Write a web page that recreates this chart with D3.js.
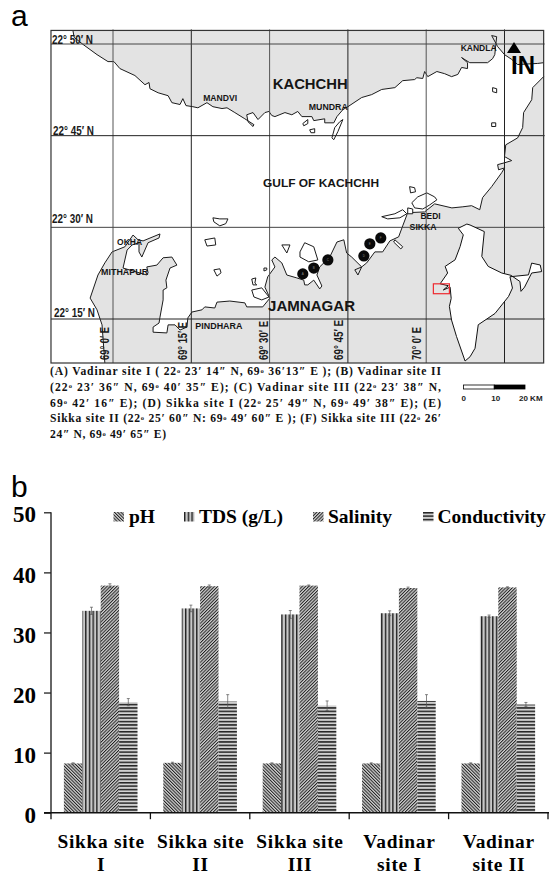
<!DOCTYPE html>
<html>
<head>
<meta charset="utf-8">
<script src="https://cdn.jsdelivr.net/npm/d3@7"></script>
<style>
  html, body { margin: 0; padding: 0; background: #fff; }
  svg { display: block; }
</style>
</head>
<body>
<svg id="fig" width="550" height="875"></svg>
<script>
// panel a: all map points are millidegrees east of 69E and north of 22N
const kachchh_coast = [[-128,1037],[-124,1018],[-96,999],[-51,971],[-16,952],[3,952],[22,933],[70,914],[102,889],[115,895],[118,878],[144,867],[176,859],[188,840],[214,835],[223,851],[233,832],[255,829],[271,826],[300,840],[319,829],[348,824],[364,826],[389,813],[421,796],[450,780],[447,775],[431,788],[427,807],[447,813],[463,794],[485,813],[498,816],[507,805],[517,802],[549,813],[571,807],[590,816],[603,802],[635,802],[641,791],[676,796],[676,785],[705,785],[715,802],[734,821],[750,829],[794,854],[826,862],[858,876],[900,881],[925,900],[963,903],[970,908],[989,906],[995,925],[1005,911],[1034,925],[1059,919],[1081,911],[1101,917],[1113,936],[1132,933],[1132,949],[1113,963],[1139,949],[1196,949],[1212,960],[1219,971],[1225,1020],[1209,1023],[1228,993],[1250,971],[1273,958],[1292,944],[1356,947],[1375,949],[1375,1037]]

const saurashtra_coast = [[1375,911],[1340,881],[1337,848],[1311,813],[1308,772],[1292,744],[1254,725],[1250,693],[1273,682],[1250,676],[1228,671],[1231,657],[1250,662],[1241,649],[1209,611],[1180,581],[1171,548],[1145,559],[1117,556],[1082,553],[1027,564],[995,542],[941,540],[925,504],[912,474],[884,463],[861,433],[836,433],[810,403],[794,392],[772,384],[782,370],[794,392],[762,419],[746,430],[737,466],[715,460],[692,419],[660,392],[651,370],[667,340],[660,332],[641,356],[622,343],[612,343],[609,356],[587,362],[555,370],[539,403],[517,419],[507,411],[517,392],[494,365],[485,337],[501,307],[478,283],[427,283],[421,294],[373,299],[332,296],[325,280],[293,283],[284,275],[252,269],[239,253],[236,228],[214,220],[198,234],[176,234],[172,212],[128,214],[128,228],[147,239],[150,255],[160,302],[160,329],[172,335],[169,356],[182,389],[204,397],[188,419],[160,417],[140,397],[108,392],[112,376],[108,370],[32,389],[45,438],[61,452],[83,458],[83,433],[92,419],[112,458],[147,471],[150,482],[96,463],[80,466],[64,479],[38,447],[-3,433],[-26,403],[-48,370],[-73,307],[-51,275],[-35,234],[-26,130],[1375,130]]

const islands = [
  [[1212,881],[1225,878],[1225,867],[1212,870]],
  [[1209,785],[1222,785],[1222,775],[1209,775]],
  [[699,744],[705,739],[718,761],[734,794],[724,788],[708,772]],
  [[628,766],[644,769],[644,758],[632,758]],
  [[606,783],[622,794],[622,783],[609,777]],
  [[947,611],[963,608],[966,597],[950,594]],
  [[954,567],[973,583],[1002,594],[1027,583],[1034,575],[1011,561],[989,550],[963,553]],
  [[858,529],[900,537],[925,548],[938,537],[916,526],[877,523]],
  [[941,553],[957,550],[957,537],[941,537]],
  [[319,526],[341,523],[367,523],[360,510],[341,504],[322,515]],
  [[293,466],[325,471],[328,452],[300,449]],
  [[322,384],[341,387],[345,376],[332,367]],
  [[482,389],[491,389],[491,384],[482,381]],
  [[443,359],[456,362],[453,348],[459,343],[447,343]],
  [[443,329],[475,335],[498,310],[475,302],[450,310]],
  [[539,452],[565,452],[555,430]],
  [[612,458],[641,447],[654,411],[625,406],[597,419],[597,433]],
  [[900,466],[925,447],[919,441],[896,460]]
]

// India outline for the inset, plain lon / lat in degrees
const india_outline = [[76.3,37.2],[73.9,36.3],[75.3,34.9],[74.4,32.4],[73.0,29.6],[70.2,28.2],[70.9,26.8],[68.8,24.5],[71.1,24.1],[69.7,23.2],[71.6,23.8],[71.9,21.4],[71.4,19.7],[72.0,16.8],[73.4,13.3],[75.8,8.1],[77.2,9.0],[78.6,10.8],[79.5,15.8],[84.2,18.2],[88.0,21.8],[89.1,23.6],[88.4,26.0],[93.6,26.4],[94.5,28.9],[96.9,28.5],[97.3,27.1],[94.5,26.8],[92.5,23.8],[91.5,22.9],[91.2,25.0],[88.7,26.3],[86.1,26.8],[82.3,28.2],[80.5,30.3],[81.2,35.6],[77.2,37.0]]
const inset_box = [[66.9,24.5],[71.4,22.4]]

const site_names = ['A', 'B', 'C', 'D', 'E', 'F']
const site_lon = [606, 641, 686, 801, 820, 855]
const site_lat = [373, 389, 411, 422, 455, 471]

const lon_ticks = [0, 250, 500, 750, 1000, 1250]
const lon_labels = ['69° 0′ E', '69° 15′ E', '69° 30′ E', '69° 45′ E', '70° 0′ E']
const lon_label_width = [33, 38, 39, 40, 33]
const lat_ticks = [1000, 750, 500, 250]
const lat_labels = ['22° 50′ N', '22° 45′ N', '22° 30′ N', '22° 15′ N']

const place_names = ['KACHCHH', 'JAMNAGAR', 'GULF OF KACHCHH', 'MANDVI', 'MUNDRA', 'KANDLA', 'BEDI', 'SIKKA', 'OKHA', 'MITHAPUR', 'PINDHARA']
const place_lon = [510, 495, 479, 288, 625, 1110, 982, 947, 13, -38, 263]
const place_lat = [876, 272, 610, 845, 821, 980, 523, 493, 452, 370, 222]
const place_size = [14.5, 15.5, 10.8, 8.6, 8.6, 8.6, 8.6, 8.6, 8.6, 8.6, 8.6]
const place_width = [75, 87, 116, 34, 39, 36, 20, 27, 25, 47, 47]

const caption_lines = [
  '(A) Vadinar site I ( 22º 23′ 14″ N, 69º 36′13″ E ); (B) Vadinar site II',
  '(22º 23′ 36″ N, 69º 40′ 35″ E); (C) Vadinar site III (22º 23′ 38″ N,',
  '69º 42′ 16″ E); (D) Sikka site I (22º 25′ 49″ N, 69º 49′ 38″ E); (E)',
  'Sikka site II (22º 25′ 60″ N: 69º 49′ 60″ E ); (F) Sikka site III (22º 26′',
  '24″ N, 69º 49′ 65″ E)'
]
const caption_width = [391, 391, 391, 391, 116]

const scale_ticks = [0, 10, 20]

// panel b
const sites = ['Sikka site I', 'Sikka site II', 'Sikka site III', 'Vadinar site I', 'Vadinar site II']
const site_line_one = ['Sikka site', 'Sikka site', 'Sikka site', 'Vadinar', 'Vadinar']
const site_line_two = ['I', 'II', 'III', 'site I', 'site II']
const series_names = ['pH', 'TDS (g/L)', 'Salinity', 'Conductivity']
const ph_values = [8.2, 8.3, 8.2, 8.2, 8.2]
const tds_values = [33.6, 34.0, 33.0, 33.2, 32.7]
const salinity_values = [37.8, 37.7, 37.8, 37.4, 37.5]
const conductivity_values = [18.4, 18.5, 17.8, 18.6, 18.0]
const ph_errors = [0.1, 0.1, 0.1, 0.1, 0.1]
const tds_errors = [0.6, 0.55, 0.65, 0.4, 0.2]
const salinity_errors = [0.3, 0.2, 0.1, 0.15, 0.1]
const conductivity_errors = [0.6, 1.15, 0.8, 1.05, 0.35]
const y_ticks = [0, 10, 20, 30, 40, 50]

const all_values = [ph_values, tds_values, salinity_values, conductivity_values]
const all_errors = [ph_errors, tds_errors, salinity_errors, conductivity_errors]

const sans = '"Liberation Sans", Arial, sans-serif'
const serif = '"Liberation Serif", "Times New Roman", serif'
const line_dark = '#1c1c1c'

const svg = d3.select('#fig')
const defs = svg.append('defs')

function add_pattern(id, size, angle, back, bars) {
  const p = defs.append('pattern')
    .attr('id', id)
    .attr('patternUnits', 'userSpaceOnUse')
    .attr('width', size)
    .attr('height', size)
    .attr('patternTransform', `rotate(${angle})`)
  p.append('rect').attr('width', size).attr('height', size).attr('fill', back)
  p.append('rect').attr('width', bars).attr('height', size).attr('fill', '#222')
}
add_pattern('fill_ph', 2.3, -45, '#d0d0d0', 1)
add_pattern('fill_tds', 3.7, 0, '#c8c8c8', 1.4)
add_pattern('fill_sal', 2.3, 45, '#d0d0d0', 1)
add_pattern('fill_con', 3.4, 90, '#d2d2d2', 1.5)
const pattern_ids = ['fill_ph', 'fill_tds', 'fill_sal', 'fill_con']

draw_map()
draw_bars()

function draw_map() {
  const x = d3.scaleLinear().domain([0, 1250]).range([113, 504.5])
  const y = d3.scaleLinear().domain([250, 1000]).range([319, 44])
  const west = -198
  const east = 1375
  const north = 1037
  const south = 130
  const line = d3.line().x(d => x(d[0])).y(d => y(d[1])).curve(d3.curveLinear)
  const map = svg.append('g')

  svg.append('text').text('a')
    .attr('x', 11).attr('y', 26)
    .attr('font-family', sans).attr('font-size', 30)

  map.append('path')
    .attr('d', line(kachchh_coast) + 'Z')
    .attr('fill', '#e3e3e3').attr('stroke', 'none')
  map.append('path')
    .attr('d', line(kachchh_coast.slice(0, -1)))
    .attr('fill', 'none').attr('stroke', line_dark).attr('stroke-width', 1)
  map.append('path')
    .attr('d', line(saurashtra_coast) + 'Z')
    .attr('fill', '#e3e3e3').attr('stroke', 'none')
  map.append('path')
    .attr('d', line(saurashtra_coast.slice(0, -1)))
    .attr('fill', 'none').attr('stroke', line_dark).attr('stroke-width', 1)

  map.selectAll('path.island').data(islands).join('path')
    .attr('class', 'island')
    .attr('d', d => line(d) + 'Z')
    .attr('fill', '#fff').attr('stroke', line_dark).attr('stroke-width', 1)

  map.selectAll('line.lon').data(lon_ticks).join('line')
    .attr('class', 'lon')
    .attr('x1', d => x(d)).attr('x2', d => x(d))
    .attr('y1', y(north) - 1).attr('y2', y(south))
    .attr('stroke', (d, i) => i % 2 ? '#222' : '#555').attr('stroke-width', 1)
  map.selectAll('line.lat').data(lat_ticks).join('line')
    .attr('class', 'lat')
    .attr('x1', x(west)).attr('x2', x(east) + 1)
    .attr('y1', d => y(d)).attr('y2', d => y(d))
    .attr('stroke', (d, i) => i % 2 ? '#222' : '#444').attr('stroke-width', 1)

  // india inset sits on top of the grid, its own scale
  const ix = d3.scaleLinear().domain([68.2, 97.4]).range([438, 542])
  const iy = d3.scaleLinear().domain([8.1, 37.0]).range([361, 225])
  const iline = d3.line().x(d => ix(d[0])).y(d => iy(d[1]))
  map.append('path')
    .attr('d', iline(india_outline) + 'Z')
    .attr('fill', '#fff').attr('stroke', '#111').attr('stroke-width', 1)
  map.append('rect')
    .attr('x', ix(inset_box[0][0])).attr('y', iy(inset_box[0][1]))
    .attr('width', ix(inset_box[1][0]) - ix(inset_box[0][0]))
    .attr('height', iy(inset_box[1][1]) - iy(inset_box[0][1]))
    .attr('fill', 'none').attr('stroke', '#ee2a30').attr('stroke-width', 1.2)

  map.append('rect')
    .attr('x', x(west)).attr('y', y(north))
    .attr('width', x(east) - x(west)).attr('height', y(south) - y(north))
    .attr('fill', 'none').attr('stroke', '#333').attr('stroke-width', 1.2)

  // sampling sites
  const site_g = map.selectAll('g.site').data(site_names).join('g')
    .attr('class', 'site')
    .attr('transform', (d, i) => `translate(${x(site_lon[i])},${y(site_lat[i])})`)
  site_g.append('circle').attr('r', 5.6).attr('fill', '#0a0a0a')
  site_g.append('text').text(d => d)
    .attr('text-anchor', 'middle').attr('y', 1)
    .attr('font-family', sans).attr('font-size', 3).attr('fill', '#888')

  // grid labels
  map.selectAll('text.lat_label').data(lat_labels).join('text')
    .attr('class', 'lat_label')
    .attr('x', (d, i) => [52, 53, 52, 54][i])
    .attr('y', (d, i) => y(lat_ticks[i]) - [0, 1, 4, 2][i])
    .attr('font-family', sans).attr('font-size', 12)
    .attr('font-weight', 'bold').attr('fill', '#1a1a1a')
    .attr('textLength', 41).attr('lengthAdjust', 'spacingAndGlyphs')
    .text(d => d)
  map.selectAll('text.lon_label').data(lon_labels).join('text')
    .attr('class', 'lon_label')
    .attr('transform', (d, i) => `translate(${x(lon_ticks[i]) - [4, 4, 2, 5, 5][i]},360) rotate(-90)`)
    .attr('font-family', sans).attr('font-size', 12)
    .attr('font-weight', 'bold').attr('fill', '#1a1a1a')
    .attr('textLength', (d, i) => lon_label_width[i]).attr('lengthAdjust', 'spacingAndGlyphs')
    .text(d => d)

  map.selectAll('text.place').data(place_names).join('text')
    .attr('class', 'place')
    .attr('x', (d, i) => x(place_lon[i]))
    .attr('y', (d, i) => y(place_lat[i]))
    .attr('font-family', sans)
    .attr('font-size', (d, i) => place_size[i])
    .attr('font-weight', 'bold').attr('fill', '#151515')
    .attr('textLength', (d, i) => place_width[i]).attr('lengthAdjust', 'spacingAndGlyphs')
    .text(d => d)

  // north arrow, the shaft runs into the I
  map.append('path')
    .attr('d', d3.line()([[514, 42], [521, 53], [507, 53]]) + 'Z')
    .attr('fill', '#000')
  map.append('text').text('IN')
    .attr('x', 511).attr('y', 74)
    .attr('font-family', sans).attr('font-size', 25).attr('font-weight', 'bold')
    .attr('textLength', 24).attr('lengthAdjust', 'spacingAndGlyphs')

  draw_caption()
  draw_scale_bar()
}

function draw_caption() {
  const row = d3.scaleLinear().domain([0, 4]).range([375, 438])
  caption_lines.forEach((txt, i) => {
    const t = svg.append('text')
      .attr('x', 50).attr('y', row(i))
      .attr('font-family', serif).attr('font-size', 11.6).attr('font-weight', 'bold')
      .attr('fill', '#111')
      .attr('textLength', caption_width[i]).attr('lengthAdjust', 'spacing')
    const parts = txt.split('º')
    parts.forEach((part, k) => {
      const tail = k == 0 ? 0 : 2.5
      t.append('tspan').attr('dy', tail).text(part)
      if (k < parts.length - 1) {
        t.append('tspan').attr('dy', -2.5).attr('font-size', 6.5).text('o')
      }
    })
  })
}

function draw_scale_bar() {
  const km = d3.scaleLinear().domain([0, 20]).range([463.5, 525])
  const g = svg.append('g')
  d3.pairs(scale_ticks).forEach((pair, i) => {
    g.append('rect')
      .attr('x', km(pair[0])).attr('y', 385)
      .attr('width', km(pair[1]) - km(pair[0])).attr('height', 4)
      .attr('fill', i == 0 ? '#fff' : '#000')
      .attr('stroke', '#000').attr('stroke-width', 0.8)
  })
  g.selectAll('text').data(scale_ticks).join('text')
    .attr('x', d => km(d) + [-2, -3, -6][scale_ticks.indexOf(d)])
    .attr('y', 401)
    .attr('font-family', sans).attr('font-size', 8).attr('font-weight', 'bold')
    .attr('fill', '#222')
    .text(d => d == 20 ? '20 KM' : d)
}

function draw_bars() {
  const y = d3.scaleLinear().domain([0, 50]).range([812.7, 512.3])
  const x0 = d3.scaleBand().domain(sites).range([51, 548])
  const x1 = d3.scaleBand().domain(series_names)
    .range([0, x0.bandwidth()]).paddingInner(0).paddingOuter(0.7)
  const g = svg.append('g')

  svg.append('text').text('b')
    .attr('x', 11).attr('y', 497)
    .attr('font-family', sans).attr('font-size', 30)

  series_names.forEach((name, s) => {
    g.selectAll(`rect.s${s}`).data(sites).join('rect')
      .attr('class', `s${s}`)
      .attr('x', d => x0(d) + x1(name))
      .attr('y', (d, i) => y(all_values[s][i]))
      .attr('width', x1.bandwidth())
      .attr('height', (d, i) => y(0) - y(all_values[s][i]))
      .attr('fill', `url(#${pattern_ids[s]})`)

    g.selectAll(`path.e${s}`).data(sites).join('path')
      .attr('class', `e${s}`)
      .attr('d', (d, i) => {
        const cx = x0(d) + x1(name) + x1.bandwidth() / 2
        const v = all_values[s][i]
        const e = all_errors[s][i]
        return `M${cx},${y(v - e)}V${y(v + e)}M${cx - 1.5},${y(v + e)}H${cx + 1.5}M${cx - 1.5},${y(v - e)}H${cx + 1.5}`
      })
      .attr('fill', 'none').attr('stroke', '#555').attr('stroke-width', 0.7)
  })

  const y_axis = g.append('g')
    .attr('transform', 'translate(51,0)')
    .call(d3.axisLeft(y).tickValues(y_ticks).tickSize(7).tickPadding(8))
  y_axis.select('.domain').attr('stroke', '#333').attr('stroke-width', 1.5)
    .attr('d', `M0,${y(50)}V${y(0)}`)
  y_axis.selectAll('.tick line').attr('stroke', '#222').attr('stroke-width', 1.3)
  y_axis.selectAll('.tick text')
    .attr('font-family', serif).attr('font-size', 23).attr('font-weight', 'bold')
    .attr('fill', '#000').attr('dy', '0.42em')

  const x_edges = sites.map(d => x0(d)).concat([x0.range()[1]])
  const x_axis = g.append('g')
  x_axis.append('line')
    .attr('x1', 44).attr('x2', 549)
    .attr('y1', y(0)).attr('y2', y(0))
    .attr('stroke', '#111').attr('stroke-width', 1.4)
  x_axis.selectAll('line.tick').data(x_edges).join('line')
    .attr('class', 'tick')
    .attr('x1', d => d).attr('x2', d => d)
    .attr('y1', y(0)).attr('y2', y(0) + 6.5)
    .attr('stroke', '#111').attr('stroke-width', 1.3)

  g.selectAll('text.site_one').data(sites).join('text')
    .attr('class', 'site_one')
    .attr('x', d => x0(d) + x0.bandwidth() / 2 + 0.5)
    .attr('y', 848)
    .attr('text-anchor', 'middle')
    .attr('font-family', serif).attr('font-size', 19.4).attr('font-weight', 'bold')
    .attr('letter-spacing', 0.7)
    .text((d, i) => site_line_one[i])
  g.selectAll('text.site_two').data(sites).join('text')
    .attr('class', 'site_two')
    .attr('x', d => x0(d) + x0.bandwidth() / 2 + 0.5)
    .attr('y', 870.5)
    .attr('text-anchor', 'middle')
    .attr('font-family', serif).attr('font-size', 19.4).attr('font-weight', 'bold')
    .attr('letter-spacing', 0.7)
    .text((d, i) => site_line_two[i])

  // legend
  const legend_x = d3.scaleOrdinal().domain(series_names).range([113.5, 184, 313, 423])
  const legend = g.selectAll('g.legend').data(series_names).join('g')
    .attr('class', 'legend')
    .attr('transform', d => `translate(${legend_x(d)},512)`)
  legend.append('rect')
    .attr('width', 10.5).attr('height', 9.5)
    .attr('fill', (d, i) => `url(#${pattern_ids[i]})`)
  legend.append('text')
    .attr('x', (d, i) => [15.5, 15, 15, 14.5][i]).attr('y', 10.5)
    .attr('font-family', serif).attr('font-size', 19.5).attr('font-weight', 'bold')
    .text(d => d)
}
</script>
</body>
</html>
